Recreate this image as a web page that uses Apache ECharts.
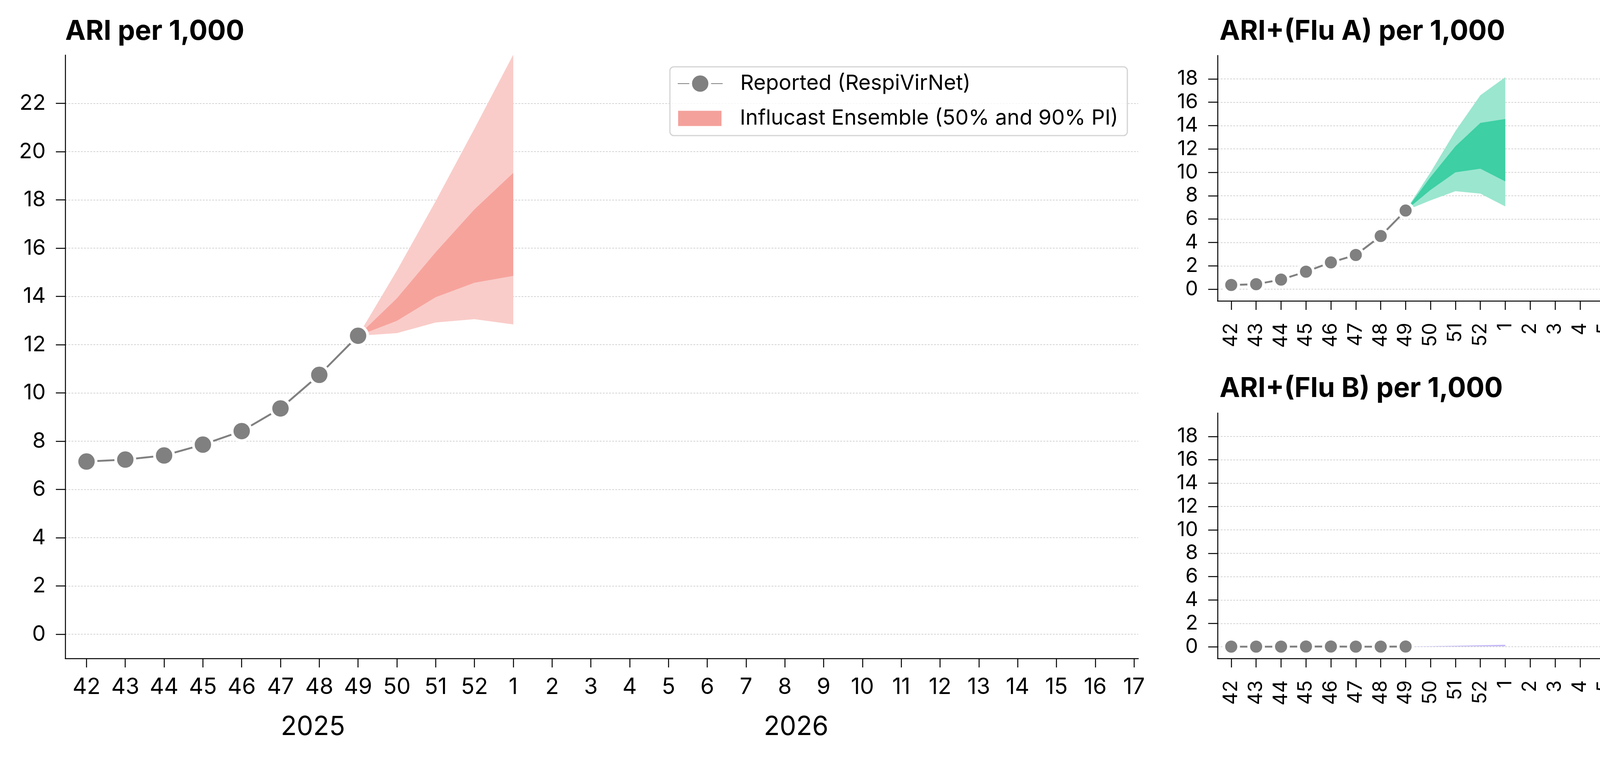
<!DOCTYPE html>
<html><head><meta charset="utf-8">
<script src="https://cdn.jsdelivr.net/npm/echarts@6/dist/echarts.min.js"></script>
<style>html,body{margin:0;padding:0;background:#fff}#c{width:4948px;height:1950px}</style>
</head><body><div id="c"></div><script>
// ---- data ----
const weeks = ['42','43','44','45','46','47','48','49','50','51','52','1','2','3','4','5','6','7','8','9','10','11','12','13','14','15','16','17'];
const reportedWeeks = ['42','43','44','45','46','47','48','49'];
const forecastWeeks = ['49','50','51','52','1'];

const ariReported = [7.16, 7.24, 7.41, 7.86, 8.42, 9.36, 10.75, 12.37];
const ariQ05 = [12.37, 12.48, 12.92, 13.06, 12.84];
const ariQ25 = [12.37, 12.99, 13.97, 14.57, 14.85];
const ariQ75 = [12.37, 13.92, 15.83, 17.61, 19.12];
const ariQ95 = [12.37, 15.07, 17.95, 20.95, 24.02];

const fluAReported = [0.36, 0.43, 0.82, 1.50, 2.29, 2.93, 4.55, 6.73];
const fluAQ05 = [6.73, 7.6, 8.39, 8.18, 7.08];
const fluAQ25 = [6.73, 8.5, 10.0, 10.31, 9.22];
const fluAQ75 = [6.73, 9.6, 12.23, 14.23, 14.57];
const fluAQ95 = [6.73, 10.0, 13.54, 16.6, 18.14];

const fluBReported = [0.01, 0.01, 0.01, 0.02, 0.02, 0.01, 0.01, 0.02];
const fluBQ05 = [0.02, 0.02, 0.03, 0.03, 0.03];
const fluBQ25 = [0.02, 0.03, 0.04, 0.06, 0.07];
const fluBQ75 = [0.02, 0.04, 0.07, 0.10, 0.13];
const fluBQ95 = [0.02, 0.05, 0.09, 0.14, 0.19];

const mainYTicks = [0,2,4,6,8,10,12,14,16,18,20,22];
const sideYTicks = [0,2,4,6,8,10,12,14,16,18];
const yearLabels = ['2025','2026'];

const REPORTED = 'Reported (RespiVirNet)';
const ENSEMBLE = 'Influcast Ensemble (50% and 90% PI)';
const FONT = 'Inter';

// ---- helpers ----
const xIdx = weeks.map((w,i)=>i);
function xOf(w){ return weeks.indexOf(w); }

function xAxisDef(gi, rotate, fontSize, margin){
  return {
    type:'value', gridIndex:gi, min:-0.548, max:27.11,
    axisLine:{show:true, onZero:false, lineStyle:{color:'#000', width:2.5}},
    axisTick:{show:true, customValues:xIdx, length:23, lineStyle:{color:'#000', width:2.5}},
    axisLabel:{customValues:xIdx, formatter:(v)=>weeks[Math.round(v)], rotate:rotate,
      fontSize:fontSize, fontFamily:FONT, color:'#000', margin:margin},
    splitLine:{show:false}
  };
}
function yAxisDef(gi, max, ticks, fontSize){
  return {
    type:'value', gridIndex:gi, min:-1, max:max,
    axisLine:{show:true, onZero:false, lineStyle:{color:'#000', width:2.5}},
    axisTick:{show:true, customValues:ticks, length:24, lineStyle:{color:'#000', width:2.5}},
    axisLabel:{customValues:ticks, fontSize:fontSize, fontFamily:FONT, color:'#000', margin:50},
    splitLine:{show:true, lineStyle:{color:'#c8c8c8', width:1.5, type:[5,3]}}
  };
}
function reportedSeries(gi, vals, size){
  return {
    type:'line', name:REPORTED, xAxisIndex:gi, yAxisIndex:gi,
    data: reportedWeeks.map((w,i)=>[xOf(w), vals[i]]),
    symbol:'circle', symbolSize:size,
    itemStyle:{color:'#808080', borderColor:'#ffffff', borderWidth:7},
    lineStyle:{color:'#808080', width:4.8},
    z:6, animation:false
  };
}
function bandRender(params, api){
  if (params.dataIndexInside !== 0) return null;
  const n = params.dataInsideLength;
  const pts = [];
  for (let i = 0; i < n; i++) pts.push(api.coord([api.value(0, i), api.value(2, i)]));
  for (let i = n - 1; i >= 0; i--) pts.push(api.coord([api.value(0, i), api.value(1, i)]));
  return {type:'polygon', shape:{points:pts}, style:{fill: api.visual('color')}};
}
function bandSeries(gi, lo, hi, color, name, z){
  return {
    type:'custom', name:name, xAxisIndex:gi, yAxisIndex:gi,
    data: forecastWeeks.map((w,i)=>[xOf(w), lo[i], hi[i]]),
    encode:{x:0, y:[1,2]},
    renderItem: bandRender, clip:true, silent:true, animation:false,
    itemStyle:{color:color}, z:z
  };
}

const series = [
  bandSeries(0, ariQ05, ariQ95, '#f9ccc9', 'ari_90', 2),
  bandSeries(0, ariQ25, ariQ75, '#f6a39c', ENSEMBLE, 3),
  bandSeries(1, fluAQ05, fluAQ95, '#9be6cf', 'fluA_90', 2),
  bandSeries(1, fluAQ25, fluAQ75, '#3ecfa4', 'fluA_50', 3),
  bandSeries(2, fluBQ05, fluBQ95, '#dcd4fb', 'fluB_90', 2),
  bandSeries(2, fluBQ25, fluBQ75, '#b4a5f3', 'fluB_50', 3),
  reportedSeries(0, ariReported, 49),
  reportedSeries(1, fluAReported, 38),
  reportedSeries(2, fluBReported, 38)
];

const titleStyle = {fontFamily:FONT, fontWeight:'bold', fontSize:70, color:'#000'};
const option = {
  backgroundColor:'#ffffff',
  animation:false,
  title:[
    {text:'ARI per 1,000', left:167, top:46, padding:0, textStyle:titleStyle},
    {text:'ARI+(Flu A) per 1,000', left:3122, top:46, padding:0, textStyle:titleStyle},
    {text:'ARI+(Flu B) per 1,000', left:3122, top:960, padding:0, textStyle:titleStyle}
  ],
  grid:[
    {left:167, top:141, width:2747, height:1544},
    {left:3117, top:142, width:1764, height:628},
    {left:3117, top:1057, width:1764, height:628}
  ],
  xAxis:[ xAxisDef(0, 0, 57, 45), xAxisDef(1, 90, 50, 56), xAxisDef(2, 90, 50, 56) ],
  yAxis:[ yAxisDef(0, 24, mainYTicks, 55), yAxisDef(1, 20, sideYTicks, 52), yAxisDef(2, 20, sideYTicks, 52) ],
  legend:[
    {left:1734, top:186, padding:0, itemWidth:115, itemHeight:61, selectedMode:false,
     data:[REPORTED],
     itemStyle:{borderColor:'#ffffff', borderWidth:7},
     textStyle:{fontFamily:FONT, fontSize:54, color:'#000', padding:[0,0,0,40]}},
    {left:1736, top:276, padding:0, itemWidth:111, itemHeight:39, selectedMode:false,
     data:[{name:ENSEMBLE, icon:'rect', itemStyle:{color:'#f4a19b', borderWidth:0}}],
     textStyle:{fontFamily:FONT, fontSize:54, color:'#000', padding:[0,0,0,42]}}
  ],
  graphic:[
    {type:'rect', z:3, shape:{x:1715, y:171, width:1171, height:176, r:10},
     style:{fill:'rgba(255,255,255,0.8)', stroke:'#d4d4d4', lineWidth:3}},
    {type:'text', z:3, x:801, y:1861, style:{text:yearLabels[0], fontSize:67, fontFamily:FONT, fill:'#000', align:'center', verticalAlign:'middle'}},
    {type:'text', z:3, x:2038, y:1861, style:{text:yearLabels[1], fontSize:67, fontFamily:FONT, fill:'#000', align:'center', verticalAlign:'middle'}}
  ],
  series: series
};
const chart = echarts.init(document.getElementById('c'), null, {renderer:'canvas'});
chart.setOption(option);
</script></body></html>
